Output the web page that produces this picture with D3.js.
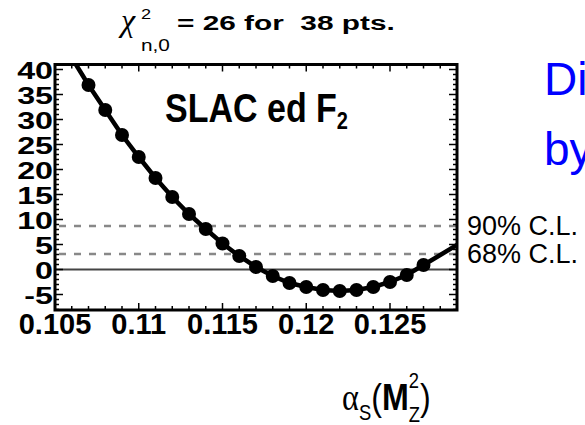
<!DOCTYPE html>
<html><head><meta charset="utf-8">
<script src="https://cdn.jsdelivr.net/npm/d3@7"></script>
<style>body{margin:0;background:#fff;} svg{display:block;} text{white-space:pre;}</style>
</head><body>
<script>
// Data
const alphaS = [0.107,0.108,0.109,0.110,0.111,0.112,0.113,0.114,0.115,0.116,0.117,0.118,0.119,0.120,0.121,0.122,0.123,0.124,0.125,0.126,0.127];
const dchi2  = [36.9,31.9,26.9,22.5,18.3,14.5,11.1,8.1,5.2,2.7,0.5,-1.3,-2.7,-3.5,-4.1,-4.3,-4.1,-3.5,-2.5,-1.1,0.9];
const curveStart = [0.10625, 41];
const curveEnd = [0.129, 4.9];
const clLevels = [8.7, 3.1];
const clLabels = ["90% C.L.", "68% C.L."];
const xTicks = [0.105,0.11,0.115,0.12,0.125];
const xTickLabels = ["0.105","0.11","0.115","0.12","0.125"];
const yTicks = [-5,0,5,10,15,20,25,30,35,40];

const W=585,H=425;
const svg=d3.select("body").append("svg").attr("width",W).attr("height",H);
const m={l:55,r:457,t:64.5,b:310};
const x=d3.scaleLinear().domain([0.105,0.129]).range([m.l,m.r]);
const y=d3.scaleLinear().domain([-8.1,41]).range([m.b,m.t]);

svg.append("clipPath").attr("id","clip").append("rect")
  .attr("x",m.l).attr("y",m.t).attr("width",m.r-m.l).attr("height",m.b-m.t);

// reference lines
const g=svg.append("g").attr("clip-path","url(#clip)");
g.append("line").attr("x1",m.l).attr("x2",m.r).attr("y1",y(0)).attr("y2",y(0))
  .attr("stroke","#444").attr("stroke-width",2.2);
clLevels.forEach(v=>{
  g.append("line").attr("x1",m.l+4).attr("x2",m.r).attr("y1",y(v)).attr("y2",y(v))
   .attr("stroke","#888").attr("stroke-width",2.5).attr("stroke-dasharray","7,8");
});

// curve
const pts=[curveStart].concat(alphaS.map((a,i)=>[a,dchi2[i]])).concat([curveEnd]);
g.append("path").datum(pts).attr("fill","none").attr("stroke","#000").attr("stroke-width",4.5)
  .attr("d",d3.line().x(d=>x(d[0])).y(d=>y(d[1])));
g.selectAll("circle.dot").data(alphaS).enter().append("circle")
  .attr("cx",d=>x(d)).attr("cy",(d,i)=>y(dchi2[i])).attr("r",7).attr("fill","#000");

// axes ticks (inward)
const minorX=d3.range(0.105,0.1291,0.001);
const minorY=d3.range(-8,41.01,1);
const tk=svg.append("g").attr("stroke","#000").attr("stroke-width",1.5);
minorX.forEach(v=>{
  const maj=Math.abs(Math.round(v*1000)%5)===0;
  const L=maj?7:4;
  tk.append("line").attr("x1",x(v)).attr("x2",x(v)).attr("y1",m.b).attr("y2",m.b-L);
  tk.append("line").attr("x1",x(v)).attr("x2",x(v)).attr("y1",m.t).attr("y2",m.t+L);
});
minorY.forEach(v=>{
  const maj=Math.round(v)%5===0;
  const L=maj?8:4;
  tk.append("line").attr("y1",y(v)).attr("y2",y(v)).attr("x1",m.l).attr("x2",m.l+L);
  tk.append("line").attr("y1",y(v)).attr("y2",y(v)).attr("x1",m.r).attr("x2",m.r-L);
});
svg.append("rect").attr("x",m.l).attr("y",m.t).attr("width",m.r-m.l).attr("height",m.b-m.t)
  .attr("fill","none").attr("stroke","#000").attr("stroke-width",3);

// tick labels
const lab=svg.append("g").attr("font-family","Liberation Sans, Arial, sans-serif").attr("font-weight","bold").attr("fill","#000");
xTicks.forEach((v,i)=>{
  lab.append("text").attr("x",x(v)).attr("y",334).attr("text-anchor","middle")
    .attr("font-size",29).text(xTickLabels[i]);
});
yTicks.forEach(v=>{
  lab.append("text").attr("text-anchor","end").attr("font-size",28)
   .attr("transform",`translate(53,${y(v)+9}) scale(1.15,0.85)`).text(v);
});

// CL labels
clLevels.forEach((v,i)=>{
  svg.append("text").attr("x",467).attr("y",[235,263][i]).attr("font-family","Liberation Sans, Arial, sans-serif")
   .attr("font-size",27).attr("fill","#000").text(clLabels[i]);
});

// title
svg.append("text").attr("x",121).attr("y",31).attr("font-family","Liberation Serif, serif").attr("font-style","italic").attr("font-size",32).text("χ");
svg.append("text").attr("transform","translate(141,19) scale(1.3,1)").attr("font-family","Liberation Sans, Arial, sans-serif").attr("font-size",14).text("2");
svg.append("text").attr("transform","translate(141,51) scale(1.3,1)").attr("font-family","Liberation Sans, Arial, sans-serif").attr("font-size",16).text("n,0");
svg.append("text").attr("transform","translate(177,30) scale(1.42,1)").attr("font-family","Liberation Sans, Arial, sans-serif")
  .attr("font-weight","bold").attr("font-size",21).text("= 26 for  38 pts.");

// in-plot label
const s=svg.append("text").attr("transform","translate(165,122) scale(1,1.2)").attr("font-family","Liberation Sans, Arial, sans-serif")
  .attr("font-weight","bold").attr("font-size",34);
s.append("tspan").text("SLAC ed F");
s.append("tspan").attr("dy",6).attr("font-size",20).text("2");

// axis title
const a=svg.append("text").attr("transform","translate(342,410) scale(0.92,1.08)").attr("font-family","Liberation Sans, Arial, sans-serif").attr("font-size",35);
a.append("tspan").attr("font-family","Liberation Serif, serif").text("α");
a.append("tspan").attr("dy",9).attr("font-size",20).text("S");
a.append("tspan").attr("dy",-9).text("(");
a.append("tspan").attr("font-weight","bold").text("M");
a.append("tspan").attr("dy",-20).attr("font-size",20).text("2");
a.append("tspan").attr("dx",-11).attr("dy",31).attr("font-size",20).text("Z");
a.append("tspan").attr("dy",-11).text(")");

// blue slide text
const b=svg.append("g").attr("font-family","Liberation Sans, Arial, sans-serif").attr("font-size",46).attr("fill","#0000ff");
b.append("text").attr("x",544).attr("y",95).text("Di");
b.append("text").attr("x",544).attr("y",165).text("by");
</script>
</body></html>
